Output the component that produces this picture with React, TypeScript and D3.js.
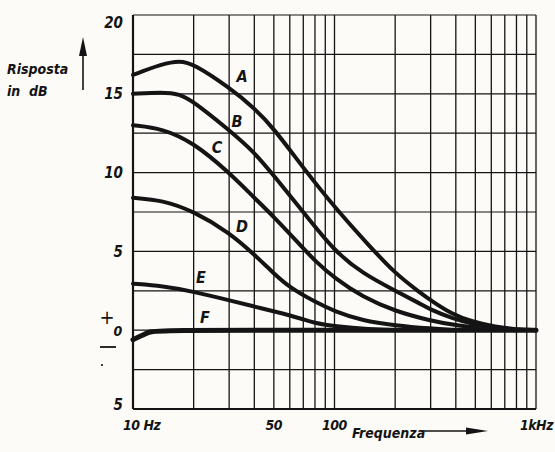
import React from "react";
import * as d3 from "d3";

const W = 555;
const H = 452;

const freqGrid = [10, 20, 30, 40, 50, 60, 70, 80, 90, 100, 200, 300, 400, 500, 600, 700, 800, 900, 1000];
const dbGrid = [-5, -2.5, 0, 2.5, 5, 7.5, 10, 12.5, 15, 17.5, 20];
const yTickLabels = [
  { v: 20, t: "20" },
  { v: 15, t: "15" },
  { v: 10, t: "10" },
  { v: 5, t: "5" },
  { v: -5, t: "5" },
];
const xTickLabels = [
  { f: 10, t: "10 Hz" },
  { f: 50, t: "50" },
  { f: 100, t: "100" },
  { f: 1000, t: "1kHz" },
];

const curveA: [number, number][] = [
  [10, 16.2], [14, 16.9], [17, 17.1], [20, 16.9], [30, 15.4], [40, 14.1], [50, 12.8],
  [70, 10.3], [100, 7.8], [150, 5.3], [200, 3.6], [265, 2.4], [300, 1.9],
  [385, 1.0], [480, 0.55], [630, 0.2], [800, 0.05], [1000, 0],
];
const curveB: [number, number][] = [
  [10, 15.0], [14, 15.1], [17, 15.0], [20, 14.5], [30, 12.7], [40, 11.3], [50, 9.8],
  [70, 7.5], [100, 5.0], [138, 3.6], [200, 2.5], [265, 1.7], [300, 1.3], [385, 0.75],
  [480, 0.4], [630, 0.15], [800, 0.03], [1000, 0],
];
const curveC: [number, number][] = [
  [10, 13.0], [14, 12.8], [20, 11.9], [30, 10.0], [40, 8.4], [50, 7.2], [70, 5.2],
  [80, 4.4], [100, 3.3], [138, 2.1], [200, 1.2], [300, 0.6], [400, 0.3], [600, 0.08], [800, 0],
];
const curveD: [number, number][] = [
  [10, 8.4], [14, 8.25], [20, 7.55], [30, 6.2], [40, 4.8], [50, 3.6], [60, 2.7],
  [80, 1.8], [100, 1.2], [138, 0.6], [200, 0.3], [300, 0.1], [400, 0],
];
const curveE: [number, number][] = [
  [10, 2.95], [14, 2.8], [20, 2.45], [30, 1.9], [40, 1.5], [50, 1.2], [70, 0.7],
  [80, 0.45], [100, 0.25], [150, 0.05], [200, 0],
];
const curveF: [number, number][] = [
  [10, -0.6], [11, -0.35], [12, -0.12], [13, 0], [100, 0], [1000, 0],
];

const series = [
  { name: "A", data: curveA, lx: 242, ly: 77, w: 4 },
  { name: "B", data: curveB, lx: 237, ly: 122, w: 4 },
  { name: "C", data: curveC, lx: 217, ly: 148, w: 4 },
  { name: "D", data: curveD, lx: 242, ly: 227, w: 4 },
  { name: "E", data: curveE, lx: 201, ly: 278, w: 4 },
  { name: "F", data: curveF, lx: 205, ly: 318, w: 5 },
];

const FONT = "'DejaVu Sans Condensed', 'DejaVu Sans', sans-serif";

export default function App() {
  const x = d3.scaleLog().domain([10, 1000]).range([133, 536]);
  const y = d3.scaleLinear().domain([-5, 20]).range([409, 15]);
  const line = d3
    .line<[number, number]>()
    .x((d) => x(d[0]))
    .y((d) => y(d[1]))
    .curve(d3.curveBasis);

  const ink = "#141414";

  return (
    <svg
      width={W}
      height={H}
      viewBox={`0 0 ${W} ${H}`}
      style={{ position: "absolute", left: 0, top: 0, background: "#fcfbf7" }}
    >
      <rect x={0} y={0} width={W} height={H} fill="#fcfbf7" />
      {freqGrid.map((f) => (
        <line key={"v" + f} x1={x(f)} x2={x(f)} y1={y(20)} y2={y(-5)} stroke={ink} strokeWidth={1.3} />
      ))}
      {dbGrid.map((v) => (
        <line key={"h" + v} x1={x(10)} x2={x(1000)} y1={y(v)} y2={y(v)} stroke={ink} strokeWidth={1.2} />
      ))}
      <line x1={x(10)} x2={x(10)} y1={y(20)} y2={y(-5)} stroke={ink} strokeWidth={2.2} />
      <line x1={x(10)} x2={x(1000)} y1={y(-5)} y2={y(-5)} stroke={ink} strokeWidth={1.8} />

      {series.map((s) => (
        <path key={s.name} d={line(s.data) || ""} fill="none" stroke={ink} strokeWidth={s.w} strokeLinecap="round" />
      ))}
      {series.map((s) => (
        <text
          key={"l" + s.name}
          x={s.lx}
          y={s.ly}
          textAnchor="middle"
          dominantBaseline="middle"
          fontFamily={FONT}
          fontStyle="italic"
          fontWeight="bold"
          fontSize={16}
          fill={ink}
        >
          {s.name}
        </text>
      ))}

      {yTickLabels.map((t) => (
        <text
          key={"yt" + t.v}
          x={123}
          y={t.v === 20 ? 23 : t.v === -5 ? 405 : y(t.v) + 1}
          textAnchor="end"
          dominantBaseline="middle"
          fontFamily={FONT}
          fontStyle="italic"
          fontWeight="bold"
          fontSize={15}
          fill={ink}
        >
          {t.t}
        </text>
      ))}
      <text x={118} y={y(0) + 2} textAnchor="middle" dominantBaseline="middle" fontFamily={FONT} fontStyle="italic" fontWeight="bold" fontSize={14} fill={ink}>
        0
      </text>
      <text x={107} y={318} textAnchor="middle" dominantBaseline="middle" fontFamily={FONT} fontSize={20} fill={ink}>
        +
      </text>
      <line x1={100} x2={116} y1={347} y2={347} stroke={ink} strokeWidth={1.8} />
      <circle cx={102} cy={365} r={1.1} fill={ink} />

      <text x={7} y={74} fontFamily={FONT} fontStyle="italic" fontWeight="bold" fontSize={14} fill={ink}>
        Risposta
      </text>
      <text x={7} y={96} fontFamily={FONT} fontStyle="italic" fontWeight="bold" fontSize={14} fill={ink} style={{ whiteSpace: "pre" }}>
        {"in  dB"}
      </text>
      <line x1={83} x2={83} y1={90} y2={52} stroke={ink} strokeWidth={1.6} />
      <path d="M83,37 L79,56 L87,56 Z" fill={ink} />

      {xTickLabels.map((t) => (
        <text
          key={"xt" + t.f}
          x={t.f === 10 ? 123 : t.f === 1000 ? 553 : x(t.f)}
          y={426}
          textAnchor={t.f === 10 ? "start" : t.f === 1000 ? "end" : "middle"}
          dominantBaseline="middle"
          fontFamily={FONT}
          fontStyle="italic"
          fontWeight="bold"
          fontSize={14}
          fill={ink}
          letterSpacing={-0.5}
        >
          {t.t}
        </text>
      ))}
      <text x={352} y={438} fontFamily={FONT} fontStyle="italic" fontWeight="bold" fontSize={14} fill={ink}>
        Frequenza
      </text>
      <line x1={423} x2={472} y1={431} y2={431} stroke={ink} strokeWidth={1.6} />
      <path d="M488,431 L466,427.5 L466,434.5 Z" fill={ink} />
    </svg>
  );
}
